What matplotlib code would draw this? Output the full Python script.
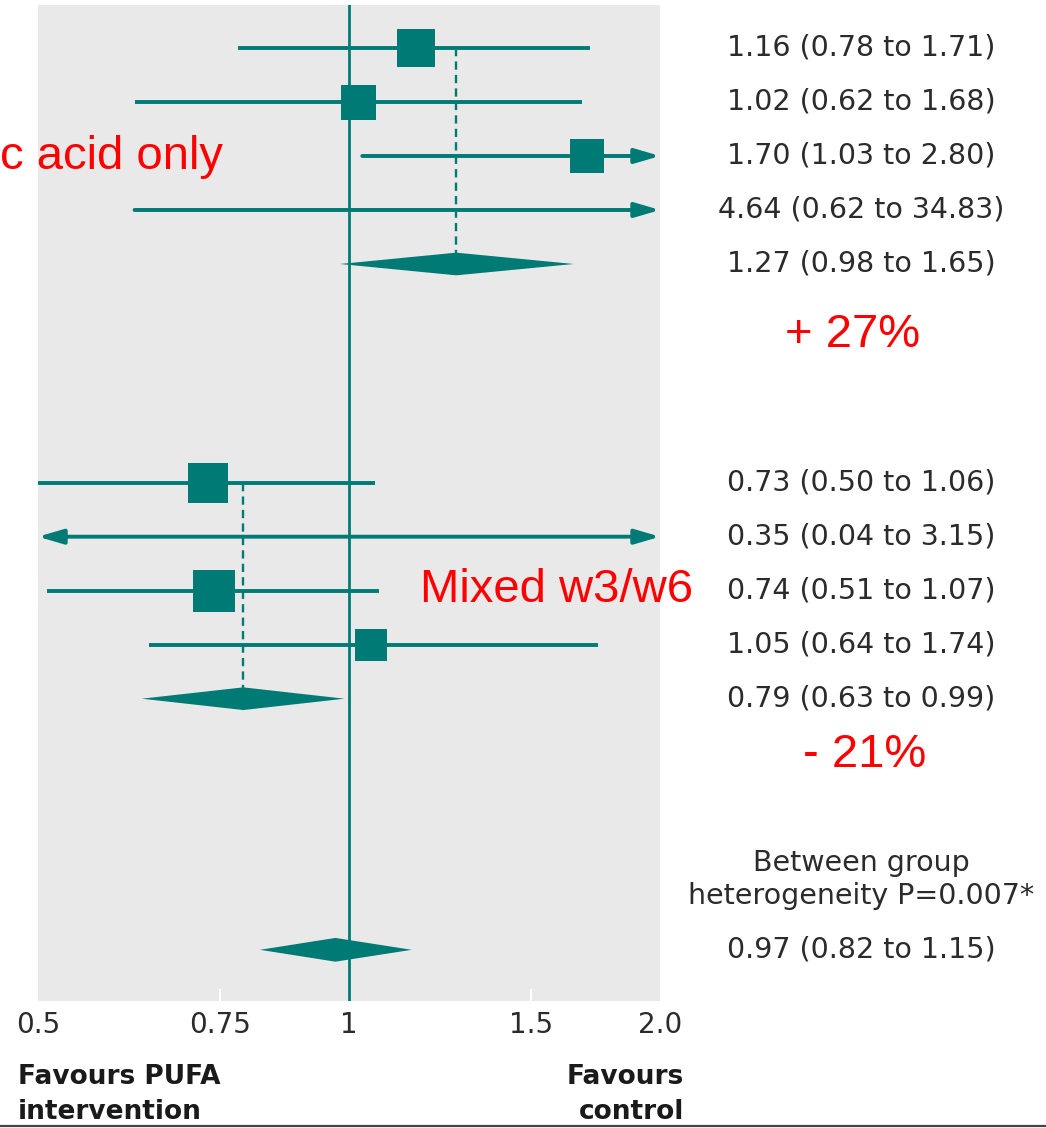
import numpy as np
import matplotlib
matplotlib.use("Agg")
import matplotlib.pyplot as plt
import matplotlib.transforms as mtransforms
from matplotlib.lines import Line2D

# ---------------- data ----------------
g1_est = [1.16, 1.02, 1.70, 4.64]
g1_lo = [0.78, 0.62, 1.03, 0.62]
g1_hi = [1.71, 1.68, 2.80, 34.83]
g1_size = [38, 35, 34, 0]          # square size (px); 0 = off scale
g1_pool = (1.27, 0.98, 1.65)

g2_est = [0.73, 0.35, 0.74, 1.05]
g2_lo = [0.50, 0.04, 0.51, 0.64]
g2_hi = [1.06, 3.15, 1.07, 1.74]
g2_size = [40, 0, 42, 32]
g2_pool = (0.79, 0.63, 0.99)

overall = (0.97, 0.82, 1.15)
het_text = "Between group\nheterogeneity P=0.007*"

xticks = [0.5, 0.75, 1, 1.5, 2.0]
xticklabels = ["0.5", "0.75", "1", "1.5", "2.0"]
xmin, xmax = 0.5, 2.0

# ---------------- layout ----------------
W, H = 1046, 1128
TEAL = "#007a74"
GRAY_BG = "#e9e9e9"
TXT = "#2b2b2b"
RED = "#ff0000"

g1_rows = [0, 1, 2, 3]
g1_pool_row = 4
g2_rows = [8.05, 9.05, 10.05, 11.05]
g2_pool_row = 12.05
het_row = 15.4
overall_row = 16.70

fig = plt.figure(figsize=(W / 100, H / 100), dpi=100)
ax = fig.add_axes([38 / W, 1 - 1001 / H, 622 / W, 996 / H])
ax.set_facecolor(GRAY_BG)
ax.set_xscale("log")
ax.set_xlim(xmin, xmax)
ax.set_ylim(17.648, -0.796)
for s in ax.spines.values():
    s.set_visible(False)
ax.set_yticks([])
ax.set_xticks(xticks)
ax.set_xticklabels(xticklabels)
ax.xaxis.set_minor_locator(matplotlib.ticker.NullLocator())
ax.tick_params(axis="x", direction="in", length=9, width=1.5, color="white",
               labelsize=20, labelcolor=TXT, pad=7)
for lab in ax.get_xticklabels():
    lab.set_fontfamily("DejaVu Sans")
_ticks = ax.xaxis.get_major_ticks()
_ticks[0].tick1line.set_visible(False)
_ticks[-1].tick1line.set_visible(False)

# reference line at 1
ax.axvline(1.0, color=TEAL, lw=2.0, zorder=2)

ppt = 72 / 100  # px -> pt
HEAD = "head_length=0.75,head_width=0.22"

def ci_line(y, lo, hi):
    a = max(lo, xmin)
    b = min(hi, xmax)
    left_arrow = lo < xmin
    right_arrow = hi > xmax
    if left_arrow and right_arrow:
        style = "<|-|>," + HEAD
    elif right_arrow:
        style = "-|>," + HEAD
    elif left_arrow:
        style = "<|-," + HEAD
    else:
        ax.plot([a, b], [y, y], color=TEAL, lw=2.8, solid_capstyle="butt", zorder=3)
        return
    ax.annotate("", xy=(b, y), xytext=(a, y),
                arrowprops=dict(arrowstyle=style, color=TEAL, lw=2.8,
                                shrinkA=0, shrinkB=0, mutation_scale=20),
                zorder=3, annotation_clip=False)

def diamond(y, est, lo, hi, half=0.21):
    ax.fill([lo, est, hi, est], [y, y - half, y, y + half], color=TEAL, lw=0, zorder=4)

def group(ests, los, his, sizes, rows, pool, pool_row):
    for e, l, h, s, r in zip(ests, los, his, sizes, rows):
        ci_line(r, l, h)
        if s > 0 and xmin <= e <= xmax:
            ax.plot(e, r, marker="s", ms=s * ppt, color=TEAL, mew=0, zorder=5)
    ax.plot([pool[0], pool[0]], [rows[0], pool_row - 0.2], color=TEAL, lw=1.7,
            ls=(0, (3.5, 2.2)), zorder=3)
    diamond(pool_row, *pool)

group(g1_est, g1_lo, g1_hi, g1_size, g1_rows, g1_pool, g1_pool_row)
group(g2_est, g2_lo, g2_hi, g2_size, g2_rows, g2_pool, g2_pool_row)
diamond(overall_row, *overall, half=0.22)

# right-hand text column
tr = mtransforms.blended_transform_factory(fig.transFigure, ax.transData)
XC = 861 / W
FS = 20.5
def fmt(e, l, h):
    return f"{e:.2f} ({l:.2f} to {h:.2f})"

txtkw = dict(transform=tr, ha="center", va="center", fontsize=FS, color=TXT,
             family="DejaVu Sans", clip_on=False)
for e, l, h, r in zip(g1_est, g1_lo, g1_hi, g1_rows):
    ax.text(XC, r, fmt(e, l, h), **txtkw)
ax.text(XC, g1_pool_row, fmt(*g1_pool), **txtkw)
for e, l, h, r in zip(g2_est, g2_lo, g2_hi, g2_rows):
    ax.text(XC, r, fmt(e, l, h), **txtkw)
ax.text(XC, g2_pool_row, fmt(*g2_pool), **txtkw)
ax.text(XC, het_row, het_text, linespacing=1.2, **txtkw)
ax.text(XC, overall_row, fmt(*overall), **txtkw)

# red annotations
redkw = dict(color=RED, fontsize=34, family="Liberation Sans", transform=tr,
             va="center", clip_on=False)
ax.text(0 / W, 2.02, "c acid only", ha="left", **redkw)
ax.text(853 / W, 5.31, "+ 27%", ha="center", **redkw)
ax.text(420 / W, 10.04, "Mixed w3/w6", ha="left", **redkw)
ax.text(865 / W, 13.09, "- 21%", ha="center", **redkw)

# favours labels
fig.text(18 / W, 1 - 1064 / H, "Favours PUFA\nintervention", ha="left", va="top",
         fontsize=19, fontweight="bold", color="#1a1a1a", family="DejaVu Sans",
         linespacing=1.45)
fig.text(684 / W, 1 - 1064 / H, "Favours\ncontrol", ha="right", va="top",
         fontsize=19, fontweight="bold", color="#1a1a1a", family="DejaVu Sans",
         linespacing=1.45, multialignment="right")

# bottom rule
fig.add_artist(Line2D([0, 1], [1 - 1126 / H, 1 - 1126 / H], transform=fig.transFigure,
                      color="#444444", lw=1.6))

fig.savefig("out.png", dpi=100, facecolor="white")
